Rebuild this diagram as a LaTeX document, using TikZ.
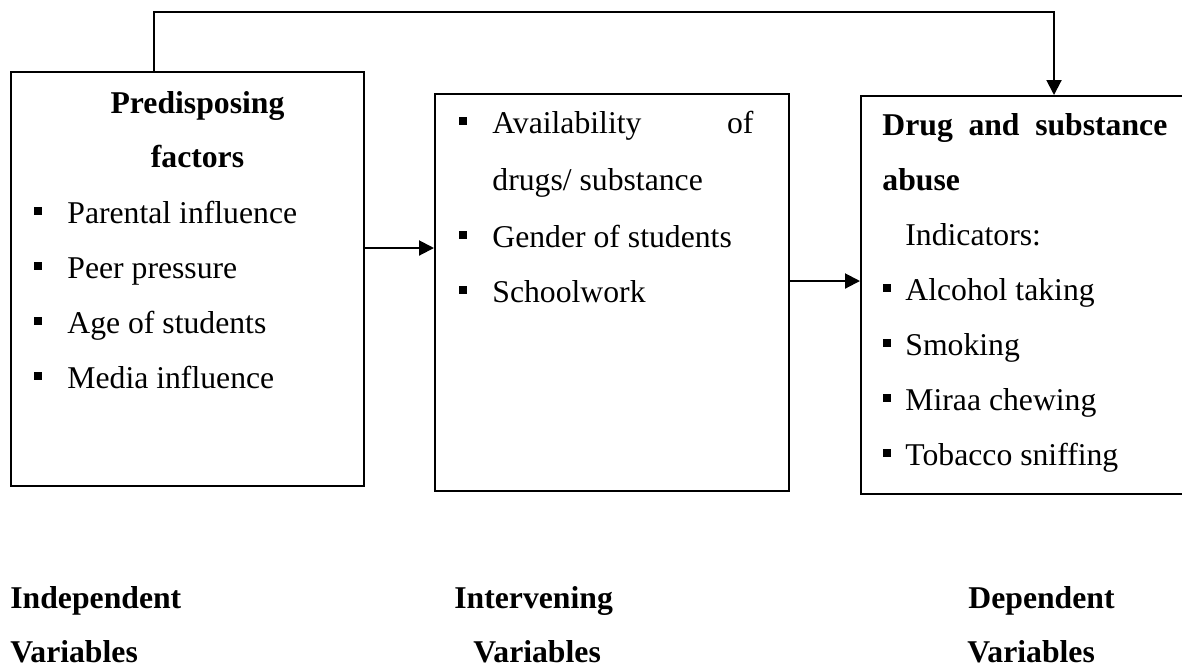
\documentclass[tikz,border=0pt]{standalone}
\usepackage{fontspec}
\setmainfont{Liberation Serif}
\usetikzlibrary{arrows.meta}
\begin{document}
\begin{tikzpicture}[x=0.5pt,y=-0.5pt,
    font=\fontsize{15.85pt}{19pt}\selectfont,
    box/.style={draw,line width=1pt,inner sep=0,anchor=north west},
    txt/.style={inner sep=0,anchor=base west},
    blt/.style={fill,inner sep=0,minimum size=4pt},
    arr/.style={line width=1pt,-{Triangle[length=7.5pt,width=7.5pt]}}]
    \useasboundingbox (0,0) rectangle (1182,666);
    % boxes
    \node[box,minimum width=176.5pt,minimum height=207pt] (pred) at (10,71) {};
    \node[box,minimum width=177pt,minimum height=198.5pt] (inter) at (434,93) {};
    \node[box,minimum width=161pt,minimum height=199pt] (dep) at (860,95) {};
    % left box
    \node[anchor=base,inner sep=0] (ph1) at (197.5,113) {\textbf{Predisposing}};
    \node[anchor=base,inner sep=0] (ph2) at (197.5,167) {\textbf{factors}};
    \foreach \t [count=\i] in {Parental influence,Peer pressure,Age of students,Media influence} {
        \node[txt] (p\i) at (67,{168+55*\i}) {\t};
        \node[blt] (pb\i) at (38,{156+55*\i}) {};
    }
    % middle box
    \node[txt] (m1) at (492,133) {\makebox[130.5pt][s]{Availability\hfill of}};
    \node[txt] (m2) at (492,190) {drugs/ substance};
    \node[txt] (m3) at (492,247) {Gender of students};
    \node[txt] (m4) at (492,302) {Schoolwork};
    \node[blt] (mb1) at (463,121) {};
    \node[blt] (mb3) at (463,235) {};
    \node[blt] (mb4) at (463,290) {};
    % right box
    \node[txt] (d1) at (882,135) {\makebox[142.5pt][s]{\textbf{Drug and substance}}};
    \node[txt] (d2) at (882,190) {\textbf{abuse}};
    \node[txt] (d3) at (905,245) {Indicators:};
    \foreach \t [count=\i] in {Alcohol taking,Smoking,Miraa chewing,Tobacco sniffing} {
        \node[txt] (r\i) at (905,{245+55*\i}) {\t};
        \node[blt] (rb\i) at (887,{233+55*\i}) {};
    }
    % connectors
    \coordinate (tl) at (154,12);
    \coordinate (tr) at (1054,12);
    \draw[arr] (pred.north -| tl) -- (tl) -- (tr) -- (dep.north -| tr);
    \draw[arr] (pred.east |- 0,248) -- (inter.west |- 0,248);
    \draw[arr] (inter.east |- 0,281) -- (dep.west |- 0,281);
    % labels
    \node[txt] (l1) at (10,608) {\textbf{Independent}};
    \node[txt] (l2) at (10,662) {\textbf{Variables}};
    \node[txt] (l3) at (454,608) {\textbf{Intervening}};
    \node[txt] (l4) at (473,662) {\textbf{Variables}};
    \node[txt] (l5) at (968,608) {\textbf{Dependent}};
    \node[txt] (l6) at (967,662) {\textbf{Variables}};
\end{tikzpicture}
\end{document}
